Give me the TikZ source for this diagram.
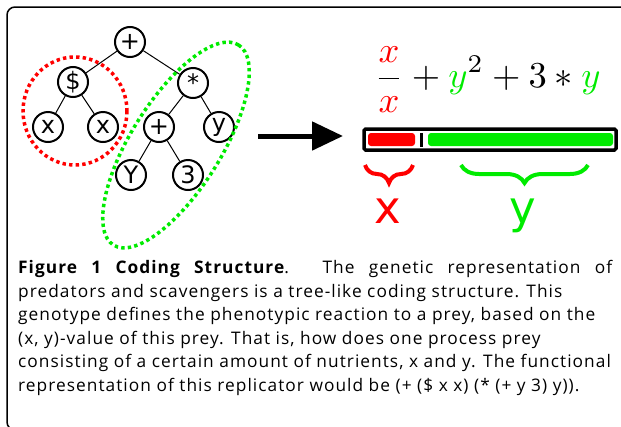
\documentclass[tikz,border=0pt]{standalone}
\usepackage{fontspec}
\setmainfont{Open Sans}[LetterSpace=6]
\newfontfamily\treefont{DejaVu Sans}
\usetikzlibrary{arrows.meta,decorations.pathreplacing}
\definecolor{genred}{RGB}{255,0,0}
\definecolor{gengreen}{RGB}{0,235,0}
\tikzset{
  op/.style={circle, draw=black, line width=2pt, inner sep=0pt,
    minimum size=30pt, font=\treefont\fontsize{24}{24}\selectfont},
  branch/.style={line width=1pt},
  group/.style={line width=3.5pt, dash pattern=on 3.4pt off 3.2pt},
  gene/.style={inner sep=0pt, rounded corners=3pt, minimum height=13pt},
  genebrace/.style={line width=4pt, decorate,
    decoration={brace, amplitude=18pt, mirror}},
  genelabel/.style={anchor=base, font=\treefont\fontsize{45}{45}\selectfont}
}

\begin{document}
\begin{tikzpicture}[x=1pt,y=-1pt]
  \useasboundingbox (0,0) rectangle (621,426);

  % frame
  \draw[line width=1.5pt, rounded corners=8pt] (640,7) -- (7,7) -- (7,430) -- (640,430);

  % tree
  \node[op] (root)   at (130,42)  {+};
  \node[op] (dollar) at (73,82)   {\$};
  \node[op] (times)  at (193,83)  {*};
  \node[op] (xa)     at (48,127)  {x};
  \node[op] (xb)     at (103,127) {x};
  \node[op] (plus)   at (159,127) {+};
  \node[op] (yb)     at (219,127) {y};
  \node[op] (ya)     at (131,175) {Y};
  \node[op] (three)  at (188,175) {3};

  \draw[branch] (root) -- (dollar);
  \draw[branch] (root) -- (times);
  \draw[branch] (dollar) -- (xa);
  \draw[branch] (dollar) -- (xb);
  \draw[branch] (times) -- (plus);
  \draw[branch] (times) -- (yb);
  \draw[branch] (plus) -- (ya);
  \draw[branch] (plus) -- (three);

  \draw[group, draw=genred] (75,111) ellipse [x radius=52, y radius=54];
  \draw[group, draw=gengreen, rotate around={58:(176,145)}]
    (176,145) ellipse [x radius=118, y radius=45];

  % genome
  \coordinate (arrowtail) at (258,136);
  \coordinate (arrowtip) at (343,136);
  \draw[line width=5pt, -{Triangle[length=31pt,width=28pt]}] (arrowtail) -- (arrowtip);

  \node[draw, line width=3.5pt, rounded corners=1.5pt, inner sep=0pt,
    minimum width=252pt, minimum height=21pt] (genome) at (490,139.5) {};
  \node[gene, fill=genred, minimum width=47pt] (xgene) at (391.5,139.5) {};
  \node[fill=black, inner sep=0pt, minimum width=3pt, minimum height=14pt] (split) at (421,139.5) {};
  \node[gene, fill=gengreen, minimum width=185pt] (ygene) at (520.5,139.5) {};

  \node[anchor=west, inner sep=0pt] (formula) at (374,80)
    {\scalebox{3.65}{$\displaystyle\frac{\color{genred}x}{\color{genred}x}+{\color{gengreen}y}^2+3*{\color{gengreen}y}$}};

  \coordinate (xbl) at (365,165);
  \coordinate (xbr) at (413,165);
  \coordinate (ybl) at (461,165);
  \coordinate (ybr) at (588,165);
  \draw[genebrace, genred] (xbl) -- (xbr);
  \draw[genebrace, gengreen] (ybl) -- (ybr);
  \node[genelabel, text=genred] (xlabel) at (388,223) {x};
  \node[genelabel, text=gengreen] (ylabel) at (523,223) {y};

  % caption
  \node[anchor=north west, inner sep=0pt, align=left,
    font=\fontsize{17.3}{23.6}\selectfont] (caption) at (18,260)
    {\hbox to 594pt{\textbf{Figure 1 Coding Structure}. The genetic representation of}\\
     predators and scavengers is a tree-like coding structure. This\\
     genotype defines the phenotypic reaction to a prey, based on the\\
     (x, y)-value of this prey. That is, how does one process prey\\
     consisting of a certain amount of nutrients, x and y. The functional\\
     representation of this replicator would be (+ (\$ x x) (* (+ y 3) y)).};
\end{tikzpicture}
\end{document}
